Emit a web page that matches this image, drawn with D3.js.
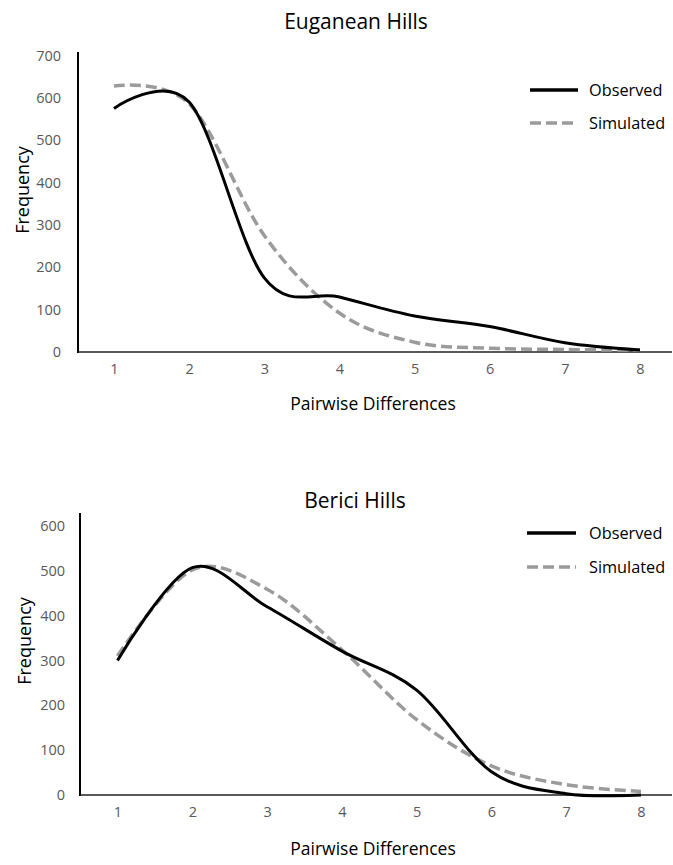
<!DOCTYPE html>
<html>
<head>
<meta charset="utf-8">
<script src="https://cdn.jsdelivr.net/npm/d3@7"></script>
<style>
  html, body { margin: 0; padding: 0; background: #fff; }
  svg { display: block; }
  text { font-family: "Open Sans", "Noto Sans", sans-serif; }
</style>
</head>
<body>
<svg id="chart" width="673" height="865"></svg>
<script>
// ---- data ----
const categories = [1, 2, 3, 4, 5, 6, 7, 8];
const euganeanObserved  = [575, 590, 175, 130, 85, 60, 22, 5];
const euganeanSimulated = [628, 586, 275, 92, 23, 9, 6, 4];
const bericiObserved    = [300, 507, 420, 321, 234, 52, 3, 0];
const bericiSimulated   = [310, 502, 459, 324, 168, 65, 23, 8];
const euganeanTicks = [0, 100, 200, 300, 400, 500, 600, 700];
const bericiTicks   = [0, 100, 200, 300, 400, 500, 600];
const seriesNames = ["Observed", "Simulated"];

const svg = d3.select("#chart");
const FONT = "Open Sans, Noto Sans, sans-serif";

function drawPanel(cfg) {
  const g = svg.append("g");
  const x = d3.scaleLinear().domain([1, 8]).range([cfg.x1, cfg.x8]);
  const y = d3.scaleLinear().domain([0, cfg.yMax]).range([cfg.y0, cfg.yTop]);

  // title
  g.append("text").attr("x", cfg.titleX).attr("y", cfg.titleY)
    .attr("text-anchor", "middle").attr("dominant-baseline", "central")
    .attr("font-size", 21).attr("fill", "#000").text(cfg.title);

  // y axis
  const ya = g.append("g").attr("transform", `translate(${cfg.axisX},0)`)
    .call(d3.axisLeft(y).tickValues(cfg.ticks).tickSize(0).tickPadding(cfg.yPad));
  ya.select(".domain").remove();
  ya.selectAll("text").attr("font-size", 14.5).attr("fill", "#595959")
    .attr("font-family", FONT);
  g.append("line").attr("x1", cfg.axisX).attr("x2", cfg.axisX)
    .attr("y1", cfg.axisTop).attr("y2", cfg.y0 + 1)
    .attr("stroke", "#000").attr("stroke-width", 2);

  // x axis
  const xa = g.append("g").attr("transform", `translate(0,${cfg.y0})`)
    .call(d3.axisBottom(x).tickValues(categories).tickFormat(d3.format("d"))
      .tickSize(0).tickPadding(12));
  xa.select(".domain").remove();
  xa.selectAll("text").attr("font-size", 14.5).attr("fill", "#595959")
    .attr("font-family", FONT);
  g.append("line").attr("x1", cfg.axisX).attr("x2", 672)
    .attr("y1", cfg.y0).attr("y2", cfg.y0)
    .attr("stroke", "#222").attr("stroke-width", 1.6);

  // axis titles
  g.append("text").attr("transform", `translate(${cfg.yLabelX},${cfg.yLabelY}) rotate(-90)`)
    .attr("text-anchor", "middle").attr("dominant-baseline", "central")
    .attr("font-size", 18).attr("fill", "#000").text("Frequency");
  g.append("text").attr("x", cfg.xLabelX).attr("y", cfg.xLabelY)
    .attr("text-anchor", "middle").attr("dominant-baseline", "central")
    .attr("font-size", 17.5).attr("fill", "#000").text("Pairwise Differences");

  const line = d3.line().x((d, i) => x(categories[i])).y(d => y(d))
    .curve(d3.curveCatmullRom.alpha(0));

  g.append("path").datum(cfg.sim).attr("d", line)
    .attr("fill", "none").attr("stroke", "#9b9b9b").attr("stroke-width", 3.5)
    .attr("stroke-dasharray", "11,5");
  g.append("path").datum(cfg.obs).attr("d", line)
    .attr("fill", "none").attr("stroke", "#000").attr("stroke-width", 3);

  // legend
  const styles = [
    { stroke: "#000", width: 3.5, dash: null },
    { stroke: "#9b9b9b", width: 3.5, dash: "11,5" }
  ];
  seriesNames.forEach((name, i) => {
    const ly = cfg.legendY[i];
    g.append("line").attr("x1", cfg.legX1).attr("x2", cfg.legX2)
      .attr("y1", ly).attr("y2", ly)
      .attr("stroke", styles[i].stroke).attr("stroke-width", styles[i].width)
      .attr("stroke-dasharray", styles[i].dash);
    g.append("text").attr("x", 589).attr("y", ly)
      .attr("dominant-baseline", "central").attr("font-size", 16.3)
      .attr("fill", "#000").text(name);
  });
}

drawPanel({
  title: "Euganean Hills", titleX: 356, titleY: 21,
  x1: 114, x8: 640, y0: 352, yTop: 55.5, yMax: 700, axisX: 78, axisTop: 52, yPad: 17,
  ticks: euganeanTicks, obs: euganeanObserved, sim: euganeanSimulated,
  yLabelX: 22, yLabelY: 190, xLabelX: 373, xLabelY: 403,
  legX1: 530, legX2: 578, legendY: [90, 123]
});

drawPanel({
  title: "Berici Hills", titleX: 355, titleY: 500,
  x1: 117.5, x8: 641, y0: 795, yTop: 526, yMax: 600, axisX: 80, axisTop: 513, yPad: 15,
  ticks: bericiTicks, obs: bericiObserved, sim: bericiSimulated,
  yLabelX: 24, yLabelY: 641, xLabelX: 373, xLabelY: 848,
  legX1: 527, legX2: 576, legendY: [533, 567]
});
</script>
</body>
</html>
